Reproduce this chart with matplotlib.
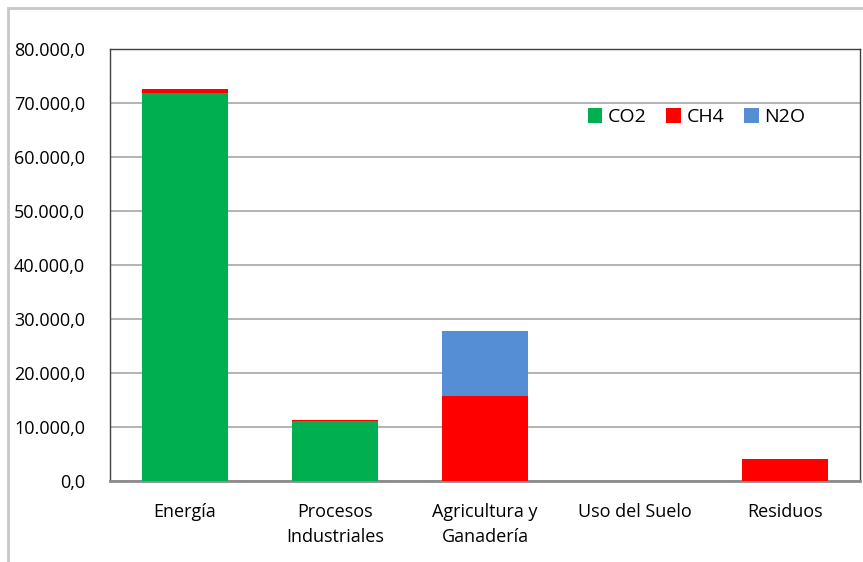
import matplotlib.pyplot as plt
from matplotlib.ticker import FuncFormatter
from matplotlib.patches import Rectangle

# categorias y valores (kt CO2 eq aprox.)
categorias = ['Energía', 'Procesos\nIndustriales', 'Agricultura y\nGanadería', 'Uso del Suelo', 'Residuos']
co2 = [71900, 11150, 60, 90, 0]
ch4 = [700, 130, 15700, 0, 4000]
n2o = [80, 20, 12050, 0, 100]

colores = ['#00B050', '#FF0000', '#558ED5']
plt.rcParams['font.family'] = ['Open Sans', 'DejaVu Sans']

fig = plt.figure(figsize=(8.63, 5.62), dpi=100)
ax = fig.add_axes([110 / 863, 81 / 562, 750 / 863, 432 / 562])

x = range(len(categorias))
ancho = 0.57
ax.bar(x, co2, ancho, color=colores[0], label='CO2', zorder=3)
base = co2
ax.bar(x, ch4, ancho, bottom=base, color=colores[1], label='CH4', zorder=3)
base2 = [a + b for a, b in zip(co2, ch4)]
ax.bar(x, n2o, ancho, bottom=base2, color=colores[2], label='N2O', zorder=3)

ax.set_xlim(-0.5, 4.5)
ax.set_ylim(0, 80000)
ax.set_yticks(range(0, 80001, 10000))
ax.yaxis.set_major_formatter(FuncFormatter(lambda v, p: f'{v:,.1f}'.replace(',', 'X').replace('.', ',').replace('X', '.')))
ax.set_xticks(list(x))
ax.set_xticklabels(categorias, fontsize=13, linespacing=1.45)
ax.tick_params(axis='y', length=0, pad=18, labelsize=13)
ax.tick_params(axis='x', length=0, pad=16)
ax.grid(axis='y', color='#a6a6a6', linewidth=1.2, zorder=0)

for s in ['left', 'top', 'right']:
    ax.spines[s].set_color('#404040')
    ax.spines[s].set_linewidth(1)
ax.spines['bottom'].set_color('#8c8c8c')
ax.spines['bottom'].set_linewidth(2)

ax.legend(loc='upper left', bbox_to_anchor=(0.624, 0.885), ncol=3, frameon=False,
          fontsize=14, handlelength=0.75, handleheight=0.75, handletextpad=0.3,
          columnspacing=1.0, borderpad=0)

# borde exterior del grafico
fig.patches.append(Rectangle((8 / 863, -0.1), 1.1, (562 - 8) / 562 + 0.1,
                             transform=fig.transFigure, fill=False,
                             edgecolor='#c8c8c8', linewidth=2))

fig.savefig('out.png', dpi=100)
